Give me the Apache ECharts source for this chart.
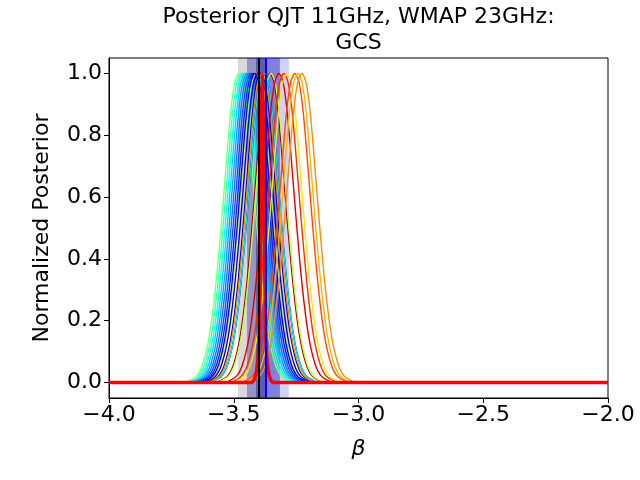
<!DOCTYPE html>
<html>
<head>
<meta charset="utf-8">
<script src="https://cdn.jsdelivr.net/npm/echarts@6/dist/echarts.min.js"></script>
<style>html,body{margin:0;padding:0;background:#fff}#c{width:640px;height:480px}</style>
</head>
<body>
<div id="c"></div>
<script>
// ---- data ----
const titleLines = ['Posterior QJT 11GHz, WMAP 23GHz:', 'GCS'];
const xTicks = [-4.0, -3.5, -3.0, -2.5, -2.0];
const yTicks = [0.0, 0.2, 0.4, 0.6, 0.8, 1.0];

// peak positions (beta) of the thin posterior curves
const curvePeaks = [-3.479, -3.471, -3.463, -3.455, -3.447, -3.439, -3.431, -3.423, -3.411, -3.415, -3.403, -3.391, -3.379, -3.379, -3.387, -3.355, -3.351, -3.319, -3.299, -3.287, -3.255, -3.243, -3.227];
const curveColors = ['#80ff77', '#4affad', '#16ffe1', '#00d4ff', '#00a4ff', '#0078ff', '#004cff', '#0020ff', '#b7ff40', '#0000f6', '#0000d1', '#0000a8', '#000084', '#00e4f8', '#ff8a00', '#a00000', '#c1ff36', '#e00000', '#ff2a00', '#ffea00', '#ff4800', '#ffb400', '#ff8c00'];
// common bell shape: offset from peak (beta) and height
const profileDx = [-0.215, -0.171, -0.145, -0.119, -0.095, -0.072, -0.052, -0.034, -0.017, 0, 0.017, 0.034, 0.052, 0.072, 0.095, 0.119, 0.145, 0.171, 0.215];
const profileY  = [0, 0.02, 0.06, 0.15, 0.3, 0.5, 0.7, 0.87, 0.97, 1, 0.97, 0.87, 0.7, 0.5, 0.3, 0.15, 0.06, 0.02, 0];

// thick red combined posterior
const redX = [-4, -3.430, -3.418, -3.408, -3.400, -3.395, -3.391, -3.388, -3.385, -3.382, -3.379, -3.375, -3.370, -3.362, -3.352, -3.340, -2];
const redY = [0, 0, 0.01, 0.04, 0.12, 0.3, 0.6, 0.88, 1, 0.88, 0.6, 0.3, 0.12, 0.04, 0.01, 0, 0];

// vertical reference lines and shaded bands
const blackLine = -3.398;
const blueLine = -3.370;
const grayBands = [[-3.483, -3.371], [-3.447, -3.371]];
const blueBands = [[-3.447, -3.279], [-3.411, -3.315]];

// ---- chart ----
const minus = v => (v < 0 ? '\u2212' : '') + Math.abs(v).toFixed(1);
const FONT = 'DejaVu Sans';

const series = [];
series.push({
  type: 'line', data: [], z: 1, silent: true,
  markArea: {
    silent: true,
    data: [
      [{ xAxis: grayBands[0][0], itemStyle: { color: 'rgba(0,0,0,0.15)' } }, { xAxis: grayBands[0][1] }],
      [{ xAxis: grayBands[1][0], itemStyle: { color: 'rgba(0,0,0,0.15)' } }, { xAxis: grayBands[1][1] }],
      [{ xAxis: blueBands[0][0], itemStyle: { color: 'rgba(0,0,255,0.18)' } }, { xAxis: blueBands[0][1] }],
      [{ xAxis: blueBands[1][0], itemStyle: { color: 'rgba(0,0,160,0.38)' } }, { xAxis: blueBands[1][1] }]
    ]
  }
});
curvePeaks.forEach((p, i) => {
  series.push({
    type: 'line', z: 2, symbol: 'none', smooth: 0.3, silent: true,
    lineStyle: { color: curveColors[i], width: 1.4 },
    data: profileDx.map((d, j) => [p + d, profileY[j]])
  });
});
series.push({
  type: 'line', z: 3, symbol: 'none', smooth: 0.25, silent: true,
  lineStyle: { color: '#ff0000', width: 3.5 },
  data: redX.map((x, j) => [x, redY[j]])
});
series.push({
  type: 'line', data: [], z: 4, silent: true,
  markLine: {
    silent: true, symbol: 'none', label: { show: false },
    data: [
      { xAxis: blackLine, lineStyle: { color: '#000000', width: 2, type: 'solid' } },
      { xAxis: blueLine, lineStyle: { color: '#0000ff', width: 2, type: 'solid' } }
    ]
  }
});

const chart = echarts.init(document.getElementById('c'));
chart.setOption({
  animation: false,
  backgroundColor: '#ffffff',
  textStyle: { fontFamily: FONT },
  grid: { left: 109, right: 32, top: 58, bottom: 82, show: true, borderColor: '#000', borderWidth: 1, backgroundColor: 'transparent' },
  graphic: [{
    type: 'text', x: 358.5, y: 4, z: 10,
    style: { text: titleLines.join('\n'), font: '22px "DejaVu Sans"', fill: '#000', align: 'center', verticalAlign: 'top', lineHeight: 26 }
  }],
  xAxis: {
    type: 'value', min: -4, max: -2, interval: 0.5,
    axisLine: { onZero: false, lineStyle: { color: '#000', width: 1 } },
    axisTick: { show: true, length: 5, lineStyle: { color: '#000' } },
    axisLabel: { fontSize: 22, color: '#000', margin: 6, fontFamily: FONT, formatter: minus, customValues: xTicks },
    splitLine: { show: false },
    name: 'β', nameLocation: 'middle', nameGap: 40,
    nameTextStyle: { fontSize: 22, fontStyle: 'italic', color: '#000', fontFamily: FONT }
  },
  yAxis: {
    type: 'value', min: -0.05, max: 1.05,
    axisLine: { show: true, onZero: false, lineStyle: { color: '#000', width: 1 } },
    axisTick: { show: true, length: 5, lineStyle: { color: '#000' }, customValues: yTicks },
    axisLabel: { fontSize: 22, color: '#000', margin: 7, fontFamily: FONT, customValues: yTicks, formatter: v => v.toFixed(1) },
    splitLine: { show: false },
    name: 'Normalized Posterior', nameLocation: 'middle', nameGap: 56,
    nameTextStyle: { fontSize: 22, color: '#000', fontFamily: FONT }
  },
  series: series
});
</script>
</body>
</html>
